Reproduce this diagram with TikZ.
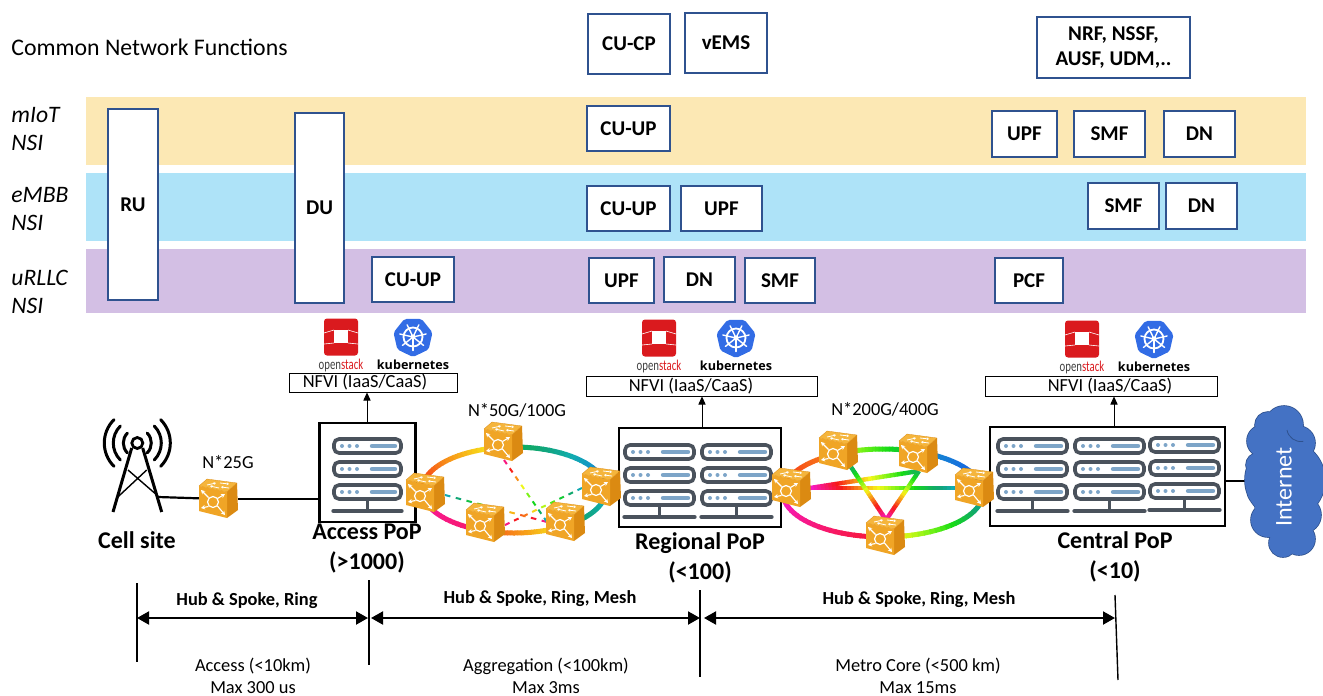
\documentclass[tikz,border=0pt]{standalone}
\usepackage{fontspec}
\setmainfont{Carlito}
\newfontfamily\kubefont{Open Sans}
\usetikzlibrary{arrows.meta,calc}
\definecolor{navy}{HTML}{2F528F}
\definecolor{bandA}{HTML}{FCE8B4}
\definecolor{bandB}{HTML}{AEE3F8}
\definecolor{bandC}{HTML}{D3BFE4}
\definecolor{rackdark}{HTML}{4A525C}
\definecolor{rackblue}{HTML}{7DA5C8}
\definecolor{osred}{HTML}{DA1A1E}
\definecolor{k8sblue}{HTML}{326CE5}
\definecolor{cloudblue}{HTML}{4472C4}
\definecolor{rfront}{HTML}{F0A526}
\definecolor{rtop}{HTML}{F5B53C}
\definecolor{rside}{HTML}{DB8A12}
\tikzset{
  fnbox/.style={draw=navy,line width=0.55pt,fill=white,inner sep=0pt,align=center,font=\fontsize{10.5}{12.5}\selectfont\bfseries},
  nfvi/.style={draw=black,line width=0.5pt,fill=white,inner sep=0pt},
  rtr/.style={minimum width=19pt,minimum height=19pt,inner sep=0pt},
  popbox/.style={draw=black,line width=1.2pt,fill=white,inner sep=0pt},
  txt/.style={inner sep=0pt,font=\fontsize{9.2}{12}\selectfont},
  slicelab/.style={inner sep=0pt,anchor=west,align=left,font=\fontsize{11.8}{14.4}\selectfont\itshape},
  poplab/.style={inner sep=0pt,align=center,font=\fontsize{12}{15}\selectfont\bfseries},
  toplab/.style={inner sep=0pt,font=\fontsize{9.2}{12}\selectfont\bfseries},
  botlab/.style={inner sep=0pt,align=center,font=\fontsize{9.2}{11}\selectfont},
  linkln/.style={line width=1.1pt,draw=black},
  uparrow/.style={line width=0.4pt,-{Triangle[length=4pt,width=3.6pt]}},
  spanln/.style={line width=1pt,{Triangle[length=6pt,width=6.5pt]}-{Triangle[length=6pt,width=6.5pt]}},
  tick/.style={line width=0.7pt}
}
% box by pixel corners
\newcommand{\fnb}[6]{%
  \pgfmathsetmacro{\bw}{(#4-#2)*0.5}\pgfmathsetmacro{\bh}{(#5-#3)*0.5}%
  \node[fnbox,minimum width=\bw pt,minimum height=\bh pt] (#1) at ({(#2+#4)/2},{(#3+#5)/2}) {#6};}
% hue colour
\newcommand{\setrb}[1]{%
  \pgfmathsetmacro{\hhv}{mod(#1+720,360)}%
  \pgfmathsetmacro{\bbv}{0.97-0.32*exp(-((\hhv-165)/45)^2)}%
  \definecolor{rbc}{Hsb}{\hhv,0.9,\bbv}}
% gradient elliptical arc: cx cy rx ry a0 a1 h0 h1 width
\newcommand{\gradarc}[9]{%
  \foreach \i in {1,...,24}{%
    \pgfmathsetmacro{\ta}{#5+(#6-#5)*(\i-1)/24}%
    \pgfmathsetmacro{\tb}{#5+(#6-#5)*\i/24+(#6-#5)/120}%
    \setrb{#7+(#8-#7)*(\i-0.5)/24}%
    \draw[rbc,line width=#9] ({#1+#3*cos(\ta)},{#2+#4*sin(\ta)}) -- ({#1+#3*cos((\ta+\tb)/2)},{#2+#4*sin((\ta+\tb)/2)}) -- ({#1+#3*cos(\tb)},{#2+#4*sin(\tb)});
  }}
% gradient line between named points: a b h0 h1 n width
\newcommand{\gradline}[6]{%
  \foreach \i in {1,...,#5}{%
    \pgfmathsetmacro{\ta}{(\i-1)/#5}\pgfmathsetmacro{\tb}{min(1,(\i+0.15)/#5)}%
    \setrb{#3+(#4-#3)*(\i-0.5)/#5}%
    \draw[rbc,line width=#6] ($(#1)!\ta!(#2)$) -- ($(#1)!\tb!(#2)$);
  }}
\newcommand{\gradcut}[5]{%
  \foreach \i in {1,...,#5}{%
    \ifodd\i
    \pgfmathsetmacro{\ta}{(\i-1)/#5}\pgfmathsetmacro{\tb}{\i/#5}%
    \setrb{#3+(#4-#3)*(\i-0.5)/#5}%
    \draw[rbc,line width=1pt] ($(#1)!\ta!(#2)$) -- ($(#1)!\tb!(#2)$);
    \fi
  }}
% router icon
\newcommand{\routericon}[1]{%
  \begin{scope}[shift={(#1)}]
    \fill[rtop,draw=rside,line width=0.15pt,line join=round] (-20,-13) -- (-12,-20) -- (18,-16) -- (8,-7) -- cycle;
    \fill[rside,line join=round] (8,-7) -- (18,-16) -- (19,11) -- (8,19) -- cycle;
    \fill[rfront,line join=round] (-20,-13) -- (8,-7) -- (8,19) -- (-20,12) -- cycle;
    \draw[white,line width=0.6pt] (-6,3) circle (5.5);
    \foreach \ax/\ay/\bx/\by in {-10.5/-1.5/-18/-9, -1.5/-0.5/6/-5, -10.5/7.5/-18/9, -1.5/7/6/16}{
      \draw[white,line width=0.55pt,-{Stealth[length=2pt,width=2.2pt]}] (\ax,\ay) -- (\bx,\by);
    }
    \foreach \ax/\ay/\bx/\by in {-12/-14/-3/-16, 0/-11/-9/-13, 1/-16/10/-15, 10/-11/2/-12}{
      \draw[white,line width=0.4pt,-{Stealth[length=1.2pt,width=1.4pt]}] (\ax,\ay) -- (\bx,\by);
    }
  \end{scope}}
% rack column: x y w
\newcommand{\srvunit}[3]{%
  \draw[rackdark,line width=1.8pt,fill=white,rounded corners=2.5pt] (#1+2,#2+2) rectangle (#1+#3-2,#2+16);
  \fill[rackblue] (#1+10,#2+9) circle (2) (#1+17.5,#2+9) circle (2) (#1+25,#2+9) circle (2);
  \draw[rackblue,line width=2.2pt,line cap=round] (#1+40,#2+9) -- (#1+#3-8,#2+9);}
\newcommand{\srvcol}[3]{%
  \srvunit{#1}{#2}{#3}
  \pgfmathsetmacro{\yb}{#2+23}\srvunit{#1}{\yb}{#3}
  \pgfmathsetmacro{\yc}{#2+46}\srvunit{#1}{\yc}{#3}
  \draw[rackdark,line width=1.8pt] ({#1+#3/2},#2+64) -- ({#1+#3/2},#2+73);
  \draw[rackdark,line width=2.2pt,line cap=round] (#1+1.5,#2+74) -- (#1+#3-1.5,#2+74);}
% logos
\newcommand{\oslogo}[4]{% name, x, y, 
  \begin{scope}[shift={(#2,#3)}]
    \fill[osred,rounded corners=1.5pt] (-17,-18.5) rectangle (17,18.5);
    \fill[white] (-7,-7) rectangle (7,6);
    \draw[white,line width=0.3pt] (-17,-4) -- (-7,-7) (17,-4) -- (7,-7) (-17,7) -- (-7,6) (17,7) -- (7,6);
  \end{scope}
  \node[inner sep=0pt,font=\fontsize{7.5}{8}\selectfont] (#1) at (#2,#3+28) {\scalebox{0.72}[1]{\textcolor{black!75}{open}\textcolor{osred}{stack}}};}
\newcommand{\kubelogo}[3]{%
  \begin{scope}[shift={(#2,#3)}]
    \fill[k8sblue,rounded corners=1pt] (90:20)--(141.4:20)--(192.8:20)--(244.3:20)--(295.7:20)--(347.1:20)--(398.6:20)--cycle;
    \draw[white,line width=0.9pt] (0,0) circle (9.5);
    \foreach \a in {90,141.4,192.8,244.3,295.7,347.1,398.6}{
      \draw[white,line width=0.7pt,line cap=round] (0,0) -- (\a:13.5);
    }
    \fill[white] (0,0) circle (2.5);
  \end{scope}
  \node[inner sep=0pt,font=\kubefont\fontsize{6.3}{7}\selectfont\bfseries] (#1) at (#2,#3+28) {kubernetes};}
\begin{document}
\begin{tikzpicture}[x=0.5pt,y=-0.5pt]
\useasboundingbox (0,0) rectangle (1323,696);
% bands
\fill[bandA] (86,97) rectangle (1306,165);
\fill[bandB] (86,173) rectangle (1306,241);
\fill[bandC] (86,249) rectangle (1306,313);
% slice labels
\node[inner sep=0pt,anchor=west,font=\fontsize{11.9}{14}\selectfont] (cnf) at (11,47) {Common Network Functions};
\node[slicelab] (s1) at (11,129) {mIoT\\NSI};
\node[slicelab] (s2) at (11,209) {eMBB\\NSI};
\node[slicelab] (s3) at (11,292) {uRLLC\\NSI};
% function boxes
\fnb{cucp}{588}{14}{670}{74}{CU-CP}
\fnb{vems}{685}{13}{767}{73}{vEMS}
\fnb{nrf}{1037}{17}{1190}{78}{NRF, NSSF,\\AUSF, UDM,..}
\fnb{ru}{108}{109}{158}{300}{RU}
\fnb{du}{295}{113}{344}{303}{DU}
\fnb{cua}{587}{106}{670}{151}{CU-UP}
\fnb{upa}{992}{111}{1057}{157}{UPF}
\fnb{sma}{1074}{111}{1145}{157}{SMF}
\fnb{dna}{1164}{111}{1235}{157}{DN}
\fnb{cub}{587}{186}{670}{231}{CU-UP}
\fnb{upb}{681}{186}{762}{231}{UPF}
\fnb{smb}{1088}{183}{1159}{229}{SMF}
\fnb{dnb}{1166}{183}{1237}{229}{DN}
\fnb{cuc}{372}{257}{454}{302}{CU-UP}
\fnb{upc}{589}{258}{654}{303}{UPF}
\fnb{dnc}{664}{257}{735}{302}{DN}
\fnb{smc}{745}{258}{815}{303}{SMF}
\fnb{pcf}{995}{258}{1063}{303}{PCF}
% logos
\oslogo{osa}{341}{337}{}
\kubelogo{ka}{413}{337}
\oslogo{osb}{659}{338}{}
\kubelogo{kb}{736}{338}
\oslogo{osc}{1082}{339}{}
\kubelogo{kc}{1154}{339}
% NFVI
\node[nfvi,minimum width=84pt,minimum height=9.5pt] (na) at (373,382.5) {};
\node[txt] at (365,382.5) {NFVI (IaaS/CaaS)};
\node[nfvi,minimum width=115.5pt,minimum height=10pt] (nb) at (701.5,386) {};
\node[txt] at (691,386) {NFVI (IaaS/CaaS)};
\node[nfvi,minimum width=116pt,minimum height=10pt] (nc) at (1101,386) {};
\node[txt] at (1110,386) {NFVI (IaaS/CaaS)};
% PoP boxes
\node[popbox,minimum width=48pt,minimum height=49.5pt] (pa) at (367.5,472.5) {};
\node[popbox,minimum width=81pt,minimum height=49.5pt] (pb) at (700,477.5) {};
\node[popbox,minimum width=117.5pt,minimum height=49.5pt] (pc) at (1107.5,476.5) {};
\srvcol{332}{437}{71}
\srvcol{623}{443}{73}
\srvcol{700}{443}{73}
\srvcol{996}{437}{73}
\srvcol{1073}{437}{73}
\srvcol{1148}{436}{73}
% arrows up
\draw[uparrow] (367,423) -- (367,392.5);
\draw[uparrow] (702,428) -- (702,396.5);
\draw[uparrow] (1114,427) -- (1114,396.5);
% routers
\node[rtr] (r0) at (219,499) {};
\node[rtr] (a1) at (426,493) {};
\node[rtr] (a2) at (504,442) {};
\node[rtr] (a3) at (602,487) {};
\node[rtr] (a4) at (486,523) {};
\node[rtr] (a5) at (566,522) {};
\node[rtr] (b1) at (792,488) {};
\node[rtr] (b2) at (839,451) {};
\node[rtr] (b3) at (919,454) {};
\node[rtr] (b4) at (975,488) {};
\node[rtr] (b5) at (886,536) {};
% tower
\coordinate (twr) at (158,497);
\draw[black,line width=1.5pt] (131.7,448) -- (113,512) (142.7,448) -- (161.7,512);
\draw[black,line width=0.7pt] (128,470) -- (158,496) (146.7,470) -- (116.7,498);
\draw[black,line width=1.4pt] (137.3,443) circle (5.5);
\foreach \r in {14,24,33}{
  \draw[black,line width=1.5pt,line cap=round] ({137.3+\r*cos(135)},{443+\r*sin(135)}) arc[start angle=135,end angle=225,radius=\r];
  \draw[black,line width=1.5pt,line cap=round] ({137.3+\r*cos(45)},{443+\r*sin(45)}) arc[start angle=45,end angle=-45,radius=\r];
}
% links
\draw[linkln] (twr) -- (r0);
\draw[linkln] (r0) -- (pa.west |- r0);
\coordinate (cl) at (1254,481);
\draw[linkln] (pc.east |- cl) -- (cl);
% ring 1
\gradarc{514}{490}{92}{43}{180}{264}{0}{62}{2.5pt}
\gradarc{514}{490}{92}{43}{264}{360}{140}{228}{2.5pt}
\gradarc{514}{490}{92}{43}{180}{107}{-40}{-20}{2.5pt}
\gradarc{514}{490}{92}{43}{107}{56}{15}{60}{2.5pt}
\gradarc{514}{490}{92}{43}{56}{0}{150}{195}{2.5pt}
\coordinate (a1f) at (445,495);
\coordinate (a5f) at (547,522);
\coordinate (a2f) at (504,460);
\coordinate (a3f) at (582,488);
\coordinate (a4f) at (505,525);
\gradcut{a1f}{a5f}{190}{-35}{19}
\gradcut{a2f}{a5f}{-35}{190}{15}
\gradcut{a3f}{a4f}{190}{-35}{17}
% ring 2
\gradarc{883}{493}{100}{44}{180}{244}{0}{30}{2.5pt}
\gradarc{883}{493}{100}{44}{244}{291}{70}{150}{2.5pt}
\gradarc{883}{493}{100}{44}{291}{360}{200}{230}{2.5pt}
\gradarc{883}{493}{100}{44}{180}{88}{-50}{-5}{2.5pt}
\gradarc{883}{493}{100}{44}{88}{0}{50}{195}{2.5pt}
\coordinate (b1f) at (810,488);
\coordinate (b4f) at (958,488);
\coordinate (b3f) at (919,471);
\coordinate (b2f) at (851,467);
\coordinate (b5f) at (886,520);
\gradline{b1f}{b4f}{-50}{190}{40}{2.2pt}
\gradline{b1f}{b3f}{-50}{150}{30}{2.2pt}
\gradline{b2f}{b5f}{150}{-50}{20}{2.2pt}
\gradline{b3f}{b5f}{150}{-50}{20}{2.2pt}
% router icons on top
\foreach \n in {r0,a1,a2,a3,a4,a5,b1,b2,b3,b4,b5}{\routericon{\n}}
% cloud
\newcommand{\cloudshape}{
  (1268,425) circle (13) (1284,425) circle (19) (1263,441) circle (16)
  (1298,443) circle (17) (1258,465) circle (12) (1264,490) circle (17)
  (1305,480) circle (18) (1303,515) circle (18) (1268,520) circle (17)
  (1283,543) circle (14) (1299,539) circle (16) (1285,480) circle (40) (1285,510) circle (30)}
\draw[draw=navy,line width=0.8pt] \cloudshape;
\fill[cloudblue] \cloudshape;
\draw[navy,line width=0.4pt] (1287,430) arc[start angle=170,end angle=80,radius=14];
\node[inner sep=0pt,rotate=90,text=white,font=\fontsize{12}{14}\selectfont] (inet) at (1284,487) {Internet};
% labels
\node[txt] at (228,462) {N*25G};
\node[txt] at (517,410) {N*50G/100G};
\node[txt] at (885,409) {N*200G/400G};
\node[poplab] (lc) at (137,540) {Cell site};
\node[poplab] (la) at (367,549) {Access PoP\\(>1000)};
\node[poplab] (lb) at (700,557.5) {Regional PoP\\(<100)};
\node[poplab] (lcc) at (1115,557) {Central PoP\\(<10)};
% bottom scale
\coordinate (t1a) at (137,583); \coordinate (t1b) at (137,662);
\coordinate (t2a) at (369,580); \coordinate (t2b) at (369,665);
\coordinate (t3a) at (700,590); \coordinate (t3b) at (700,677);
\coordinate (t4a) at (1115,595); \coordinate (t4b) at (1118,680);
\draw[tick] (t1a) -- (t1b);
\draw[tick] (t2a) -- (t2b);
\draw[tick] (t3a) -- (t3b);
\draw[tick] (t4a) -- (t4b);
\coordinate (s1l) at (137,618); \coordinate (s1r) at (368,618);
\coordinate (s2l) at (371,618); \coordinate (s2r) at (700,618);
\coordinate (s3l) at (704,618); \coordinate (s3r) at (1115,618);
\draw[spanln] (s1l) -- (s1r);
\draw[spanln] (s2l) -- (s2r);
\draw[spanln] (s3l) -- (s3r);
\node[toplab] at (247,601) {Hub \& Spoke, Ring};
\node[toplab] at (540,599) {Hub \& Spoke, Ring, Mesh};
\node[toplab] at (919,600) {Hub \& Spoke, Ring, Mesh};
\node[botlab] at (253,676) {Access (<10km)\\Max 300 us};
\node[botlab] at (546,676) {Aggregation (<100km)\\Max 3ms};
\node[botlab] at (918,676) {Metro Core (<500 km)\\Max 15ms};
\end{tikzpicture}
\end{document}
